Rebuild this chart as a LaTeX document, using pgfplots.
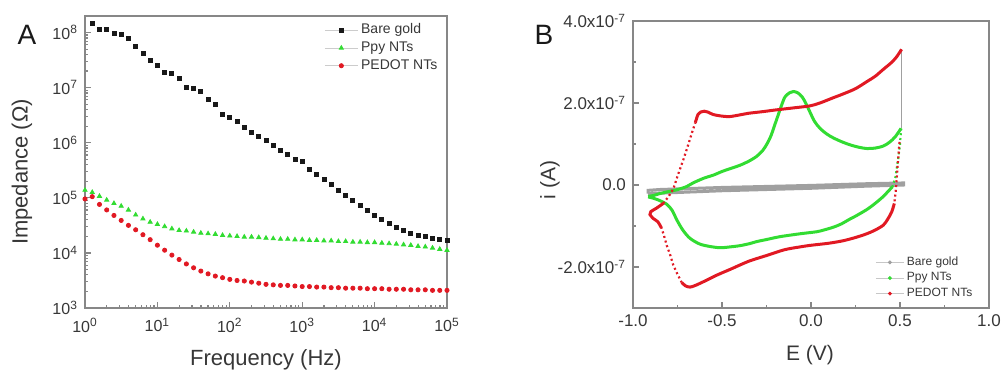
\documentclass[border=0pt]{standalone}
\usepackage{fontspec}
\setmainfont{Liberation Sans}
\usepackage{pgfplots}
\pgfplotsset{compat=1.18}
\usepackage{pgfplotstable}
\definecolor{axgray}{RGB}{135,135,135}
\definecolor{txtgray}{RGB}{55,55,55}
\definecolor{mygreen}{RGB}{50,220,50}
\definecolor{myred}{RGB}{225,25,35}
\definecolor{bgray}{RGB}{160,160,160}

\pgfplotstableread{
f bare ppy pedot
1 nan 1.38e5 9.55e4
1.259 1.48e8 1.26e5 1.05e5
1.585 1.15e8 1.07e5 7.59e4
1.995 1.15e8 9.12e4 6.03e4
2.512 9.55e7 7.94e4 4.79e4
3.162 9.12e7 7.08e4 3.89e4
3.981 7.76e7 6.03e4 3.16e4
5.012 5.50e7 4.90e4 2.63e4
6.310 4.17e7 4.17e4 2.14e4
7.943 3.09e7 3.63e4 1.74e4
10 2.57e7 3.31e4 1.38e4
12.59 1.91e7 3.02e4 1.12e4
15.85 1.78e7 2.75e4 9.12e3
19.95 1.48e7 2.57e4 7.59e3
25.12 1.00e7 2.51e4 6.31e3
31.62 9.55e6 2.40e4 5.37e3
39.81 8.51e6 2.29e4 4.68e3
50.12 6.03e6 2.24e4 4.17e3
63.10 4.90e6 2.19e4 3.80e3
79.43 3.24e6 2.09e4 3.55e3
100 2.88e6 2.04e4 3.31e3
125.9 2.45e6 2.00e4 3.16e3
158.5 1.91e6 1.95e4 3.09e3
199.5 1.55e6 1.95e4 2.95e3
251.2 1.32e6 1.91e4 2.82e3
316.2 1.10e6 1.86e4 2.69e3
398.1 8.91e5 1.82e4 2.63e3
501.2 7.24e5 1.78e4 2.57e3
631.0 6.17e5 1.78e4 2.57e3
794.3 5.01e5 1.74e4 2.51e3
1000 4.68e5 1.74e4 2.45e3
1259 3.31e5 1.70e4 2.45e3
1585 2.69e5 1.70e4 2.40e3
1995 2.14e5 1.66e4 2.40e3
2512 1.74e5 1.66e4 2.34e3
3162 1.35e5 1.62e4 2.34e3
3981 1.10e5 1.62e4 2.29e3
5012 8.91e4 1.58e4 2.29e3
6310 7.24e4 1.58e4 2.29e3
7943 5.89e4 1.55e4 2.24e3
10000 4.79e4 1.55e4 2.24e3
12590 3.98e4 1.51e4 2.24e3
15850 3.39e4 1.48e4 2.19e3
19950 2.95e4 1.45e4 2.19e3
25120 2.51e4 1.41e4 2.19e3
31620 2.24e4 1.38e4 2.14e3
39810 2.09e4 1.32e4 2.14e3
50120 2.00e4 1.29e4 2.14e3
63100 1.86e4 1.23e4 2.09e3
79430 1.78e4 1.17e4 2.09e3
100000 1.70e4 1.12e4 2.09e3
}\impdata

\begin{document}
\begin{tikzpicture}
\useasboundingbox (0,0) rectangle (502pt,187pt);
\pgfplotsset{
  mystyle/.style={
    scale only axis, anchor=south west, clip=true,
    axis line style={axgray, line width=1pt},
    every tick/.style={axgray, line width=0.6pt},
    tick align=inside, tick pos=left,
    major tick length=3pt, minor tick length=1.6pt,
    tick label style={text=txtgray},
    label style={text=txtgray},
  }
}
% ---------------- Panel A ----------------
\begin{axis}[mystyle, at={(42.5pt,33pt)}, width=181pt, height=146pt,
  xmode=log, ymode=log, xmin=1, xmax=1e5, ymin=1e3, ymax=2e8,
  xtick={1,10,100,1000,10000,100000},
  xticklabels={10\textsuperscript{0},10\textsuperscript{1},10\textsuperscript{2},10\textsuperscript{3},10\textsuperscript{4},10\textsuperscript{5}},
  minor xtick={2,3,4,5,6,7,8,9,20,30,40,50,60,70,80,90,200,300,400,500,600,700,800,900,2000,3000,4000,5000,6000,7000,8000,9000,20000,30000,40000,50000,60000,70000,80000,90000},
  ytick={1e3,1e4,1e5,1e6,1e7,1e8},
  yticklabels={10\textsuperscript{3},10\textsuperscript{4},10\textsuperscript{5},10\textsuperscript{6},10\textsuperscript{7},10\textsuperscript{8}},
  minor ytick={2e3,3e3,4e3,5e3,6e3,7e3,8e3,9e3,2e4,3e4,4e4,5e4,6e4,7e4,8e4,9e4,2e5,3e5,4e5,5e5,6e5,7e5,8e5,9e5,2e6,3e6,4e6,5e6,6e6,7e6,8e6,9e6,2e7,3e7,4e7,5e7,6e7,7e7,8e7,9e7},
  tick label style={font=\fontsize{8}{9}\selectfont},
  xticklabel style={yshift=-1.5pt},
  xlabel={Frequency (Hz)}, ylabel={Impedance (Ω)},
  label style={font=\fontsize{11}{13}\selectfont},
  xlabel style={at={(axis description cs:0.5,-0.178)}, anchor=center},
  ylabel style={at={(axis description cs:-0.174,0.466)}, anchor=center},
  legend cell align=left,
  legend style={draw=none, fill=none, at={(0.66,0.985)}, anchor=north west,
    font=\fontsize{7}{8}\selectfont, inner sep=0pt, row sep=-0.3pt,
    nodes={inner sep=1.4pt, text=txtgray}},
  legend image code/.code={
    \draw[black!20,line width=0.5pt] (0cm,0cm) -- (0.58cm,0cm);
    \draw[mark repeat=2,mark phase=2,#1] plot coordinates {(0cm,0cm) (0.29cm,0cm) (0.58cm,0cm)};
  },
]
\addplot[only marks, mark=square*, mark size=1.0pt, color=black!90] table[x=f,y=bare] {\impdata};
\addlegendentry{Bare gold}
\addplot[only marks, mark=triangle*, mark size=1.2pt, color=mygreen] table[x=f,y=ppy] {\impdata};
\addlegendentry{Ppy NTs}
\addplot[only marks, mark=*, mark size=1.05pt, color=myred] table[x=f,y=pedot] {\impdata};
\addlegendentry{PEDOT NTs}
\end{axis}
\node[font=\fontsize{14}{16}\selectfont, text=black!90] at (13.5pt,169.5pt) {A};
% ---------------- Panel B ----------------
\begin{axis}[mystyle, at={(316.5pt,33pt)}, width=178pt, height=143.5pt,
  xmin=-1, xmax=1, ymin=-3, ymax=4,
  xtick={-1,-0.5,0,0.5,1}, xticklabels={-1.0,-0.5,0.0,0.5,1.0},
  ytick={-2,0,2,4},
  yticklabels={-2.0x10\textsuperscript{-7},0.0,2.0x10\textsuperscript{-7},4.0x10\textsuperscript{-7}},
  minor xtick={-0.75,-0.25,0.25,0.75}, minor ytick={-1,1,3},
  tick label style={font=\fontsize{8.5}{10}\selectfont},
  xlabel={E (V)}, ylabel={i (A)},
  label style={font=\fontsize{10.5}{12}\selectfont},
  xlabel style={at={(axis description cs:0.497,-0.164)}, anchor=center},
  ylabel style={at={(axis description cs:-0.233,0.446)}, anchor=center},
  legend cell align=left,
  legend style={draw=none, fill=none, at={(0.68,0.02)}, anchor=south west,
    font=\fontsize{6}{7}\selectfont, inner sep=0pt, row sep=-0.5pt,
    nodes={inner sep=1.3pt, text=txtgray}},
  legend image code/.code={
    \draw[black!22,line width=0.5pt] (0cm,0cm) -- (0.49cm,0cm);
    \fill[#1] (0.245cm,0cm) circle (0.75pt);
  },
]
% Bare gold
\addplot[bgray, line width=1.5pt, forget plot] coordinates {
(-0.915,-0.21) (-0.85,-0.20) (-0.5,-0.14) (0,-0.08) (0.3,-0.03) (0.52,0.0)
(0.52,0.05) (0.3,0.03) (0,-0.01) (-0.5,-0.06) (-0.85,-0.11) (-0.915,-0.13) (-0.915,-0.21)};
\addplot[bgray, line width=0.4pt, forget plot] coordinates {(0.507,3.31) (0.507,1.38)};
% Ppy NTs
\addplot[mygreen, line width=1.5pt, smooth, forget plot] coordinates {
(-0.915,-0.28) (-0.88,-0.25) (-0.85,-0.21) (-0.80,-0.16) (-0.757,-0.12) (-0.70,-0.04)
(-0.663,0.05) (-0.60,0.17) (-0.549,0.24) (-0.50,0.33) (-0.44,0.42) (-0.40,0.48)
(-0.35,0.58) (-0.305,0.70) (-0.27,0.85) (-0.245,1.02) (-0.225,1.20) (-0.205,1.45)
(-0.185,1.70) (-0.165,1.95) (-0.146,2.15) (-0.12,2.25) (-0.10,2.28) (-0.075,2.25)
(-0.05,2.15) (-0.03,2.0) (-0.006,1.78) (0.02,1.55) (0.051,1.38) (0.09,1.24)
(0.125,1.15) (0.17,1.06) (0.219,0.98) (0.27,0.92) (0.313,0.89) (0.36,0.90)
(0.406,0.95) (0.44,1.04) (0.472,1.17) (0.506,1.38)};
\addplot[mygreen, line width=1.1pt, dash pattern=on 1pt off 1.4pt, forget plot] coordinates {
(0.506,1.38) (0.50,1.0) (0.49,0.65) (0.483,0.45) (0.475,0.20) (0.458,-0.04)};
\addplot[mygreen, line width=1.5pt, smooth, forget plot] coordinates {
(0.458,-0.04) (0.43,-0.17) (0.406,-0.28) (0.36,-0.45) (0.313,-0.60) (0.25,-0.76)
(0.219,-0.83) (0.17,-0.95) (0.125,-1.03) (0.07,-1.10) (0.032,-1.14) (-0.062,-1.19)
(-0.174,-1.26) (-0.25,-1.33) (-0.305,-1.38) (-0.345,-1.43) (-0.40,-1.48) (-0.455,-1.51)
(-0.51,-1.53) (-0.567,-1.50) (-0.625,-1.44) (-0.68,-1.30) (-0.72,-1.10) (-0.754,-0.85)
(-0.78,-0.62) (-0.81,-0.47) (-0.85,-0.38) (-0.88,-0.33) (-0.915,-0.29)};
% PEDOT NTs
\addplot[myred, line width=1.5pt, smooth, forget plot] coordinates {
(-0.84,-1.05) (-0.86,-0.90) (-0.885,-0.82) (-0.905,-0.72) (-0.90,-0.65) (-0.87,-0.57) (-0.83,-0.45)};
\addplot[myred, line width=1.1pt, dash pattern=on 1pt off 1.4pt, forget plot] coordinates {
(-0.83,-0.45) (-0.80,-0.28) (-0.774,-0.10) (-0.745,0.28) (-0.717,0.62) (-0.69,0.98) (-0.67,1.26) (-0.65,1.52)};
\addplot[myred, line width=1.5pt, smooth, forget plot] coordinates {
(-0.65,1.52) (-0.635,1.72) (-0.62,1.78) (-0.60,1.80) (-0.58,1.78) (-0.55,1.72)
(-0.50,1.68) (-0.455,1.67) (-0.40,1.71) (-0.35,1.75) (-0.27,1.79) (-0.20,1.83)
(-0.10,1.88) (-0.006,1.93) (0.05,2.0) (0.12,2.12) (0.18,2.22) (0.25,2.35)
(0.313,2.52) (0.36,2.65) (0.406,2.82) (0.45,2.98) (0.48,3.12) (0.509,3.31)};
\addplot[myred, line width=1.1pt, dash pattern=on 1pt off 1.4pt, forget plot] coordinates {
(0.497,1.05) (0.492,0.75) (0.486,0.45) (0.481,0.12) (0.476,-0.15) (0.468,-0.45)};
\addplot[myred, line width=1.5pt, smooth, forget plot] coordinates {
(0.468,-0.45) (0.453,-0.66) (0.43,-0.84) (0.406,-0.98) (0.36,-1.10) (0.313,-1.19)
(0.25,-1.28) (0.18,-1.36) (0.10,-1.42) (0.0,-1.47) (-0.062,-1.51) (-0.15,-1.58)
(-0.25,-1.72) (-0.35,-1.86) (-0.45,-2.05) (-0.53,-2.20) (-0.60,-2.35) (-0.65,-2.45)
(-0.68,-2.49) (-0.705,-2.46) (-0.726,-2.38)};
\addplot[myred, line width=1.1pt, dash pattern=on 1pt off 1.4pt, forget plot] coordinates {
(-0.726,-2.38) (-0.75,-2.18) (-0.774,-1.95) (-0.79,-1.72) (-0.81,-1.48) (-0.825,-1.25) (-0.84,-1.05)};
\addlegendimage{bgray}
\addlegendentry{Bare gold}
\addlegendimage{mygreen}
\addlegendentry{Ppy NTs}
\addlegendimage{myred}
\addlegendentry{PEDOT NTs}
\end{axis}
\node[font=\fontsize{14}{16}\selectfont, text=black!90] at (272pt,169.5pt) {B};
\end{tikzpicture}
\end{document}
